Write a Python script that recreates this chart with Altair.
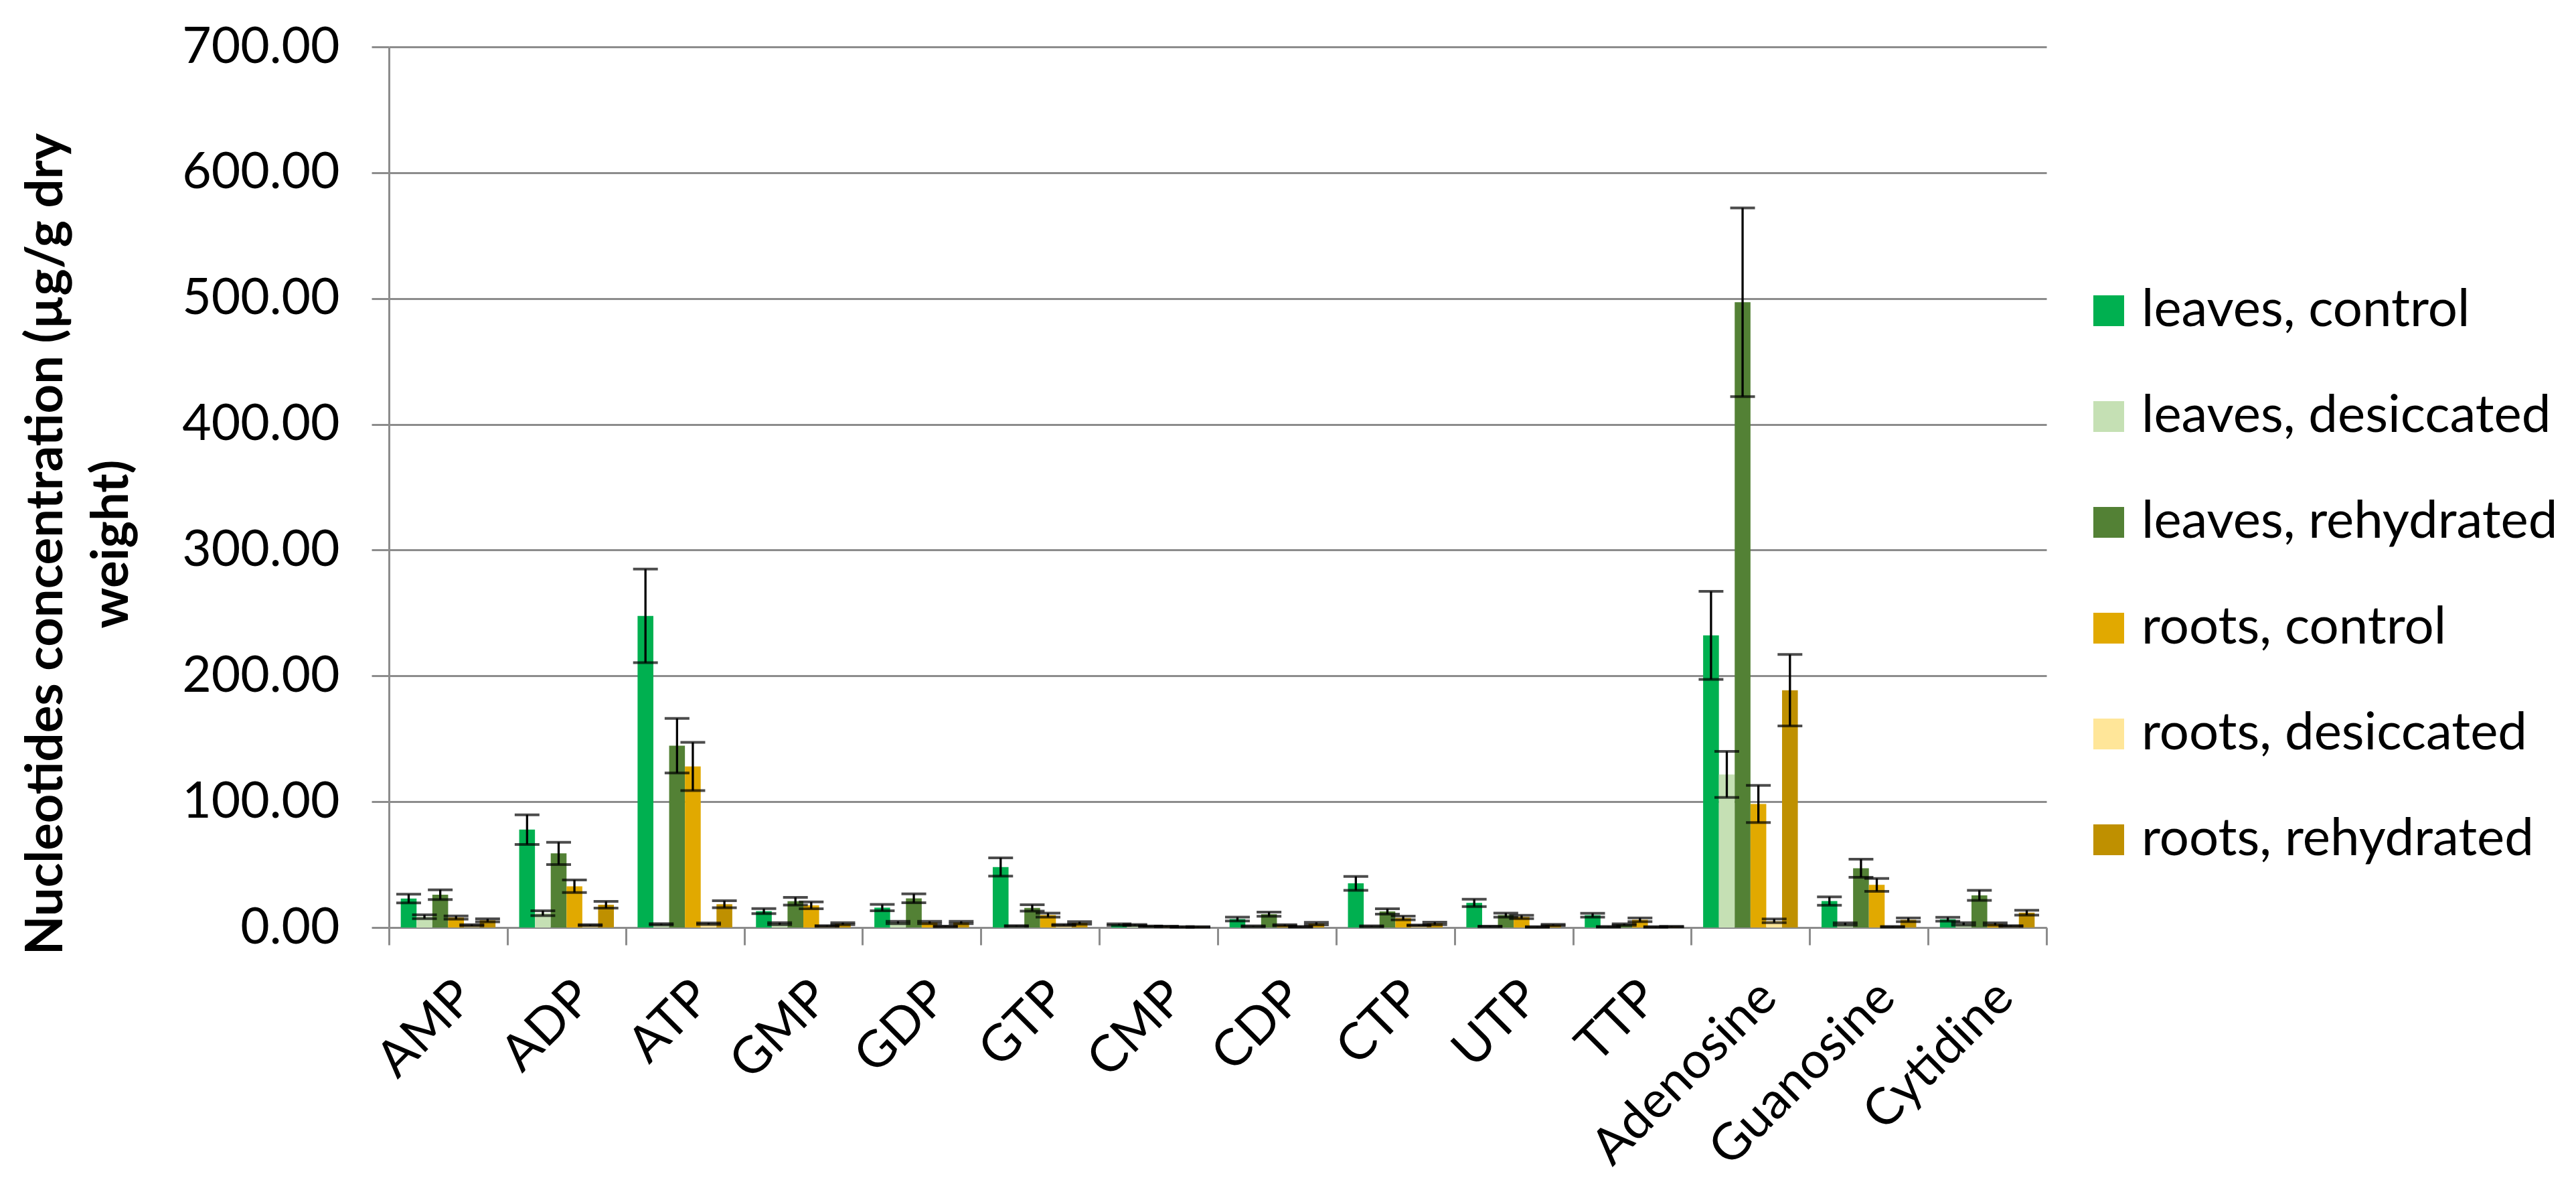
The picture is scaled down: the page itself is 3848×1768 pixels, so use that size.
import altair as alt
import pandas as pd

categories = ["AMP", "ADP", "ATP", "GMP", "GDP", "GTP", "CMP", "CDP", "CTP",
              "UTP", "TTP", "Adenosine", "Guanosine", "Cytidine"]
series = ["leaves, control", "leaves, desiccated", "leaves, rehydrated",
          "roots, control", "roots, desiccated", "roots, rehydrated"]
colors = ["#00B050", "#C5E0B4", "#538135", "#E1A900", "#FFE699", "#BF9000"]

leaves_control = [23.0, 77.8, 247.7, 13.0, 15.8, 48.1, 2.3, 6.7, 35.1, 19.6, 9.8, 232.2, 21.0, 6.6]
leaves_control_err = [3.5, 11.8, 37.2, 2.0, 2.5, 7.3, 0.6, 1.5, 5.5, 2.9, 1.5, 35.0, 3.3, 1.5]
leaves_desiccated = [8.6, 11.4, 2.5, 3.0, 4.0, 1.2, 2.0, 1.0, 1.0, 0.8, 0.6, 121.7, 2.8, 2.9]
leaves_desiccated_err = [1.5, 1.9, 0.5, 0.8, 0.9, 0.3, 0.4, 0.3, 0.3, 0.2, 0.2, 18.3, 0.9, 1.0]
leaves_rehydrated = [26.1, 58.9, 144.5, 20.9, 23.2, 15.6, 1.0, 10.6, 12.8, 9.9, 2.3, 497.0, 47.1, 25.6]
leaves_rehydrated_err = [3.9, 8.9, 21.7, 3.1, 3.5, 2.5, 0.2, 1.7, 2.1, 1.6, 0.6, 75.0, 7.2, 4.0]
roots_control = [7.9, 32.8, 128.0, 17.6, 4.0, 9.9, 0.8, 1.8, 7.6, 8.4, 6.1, 98.2, 33.9, 2.8]
roots_control_err = [1.3, 5.0, 19.2, 2.7, 0.9, 1.6, 0.2, 0.5, 1.5, 1.3, 1.5, 14.8, 5.1, 0.9]
roots_desiccated = [1.8, 1.8, 3.0, 1.2, 0.9, 2.0, 0.5, 0.6, 1.7, 0.5, 0.4, 5.3, 0.6, 1.2]
roots_desiccated_err = [0.5, 0.4, 0.6, 0.3, 0.2, 0.4, 0.2, 0.2, 0.3, 0.2, 0.2, 1.5, 0.2, 0.3]
roots_rehydrated = [5.7, 18.1, 18.5, 3.0, 4.0, 3.6, 0.5, 3.1, 3.3, 2.0, 0.7, 188.6, 6.1, 11.8]
roots_rehydrated_err = [1.2, 2.7, 2.8, 0.8, 0.9, 1.0, 0.2, 1.0, 1.0, 0.5, 0.2, 28.4, 1.5, 1.9]

y_ticks = [0, 100, 200, 300, 400, 500, 600, 700]
y_title = ["Nucleotides concentration (µg/g dry", "weight)"]

values = [leaves_control, leaves_desiccated, leaves_rehydrated,
          roots_control, roots_desiccated, roots_rehydrated]
errors = [leaves_control_err, leaves_desiccated_err, leaves_rehydrated_err,
          roots_control_err, roots_desiccated_err, roots_rehydrated_err]

rows = []
for s, vals, errs in zip(series, values, errors):
    for c, v, e in zip(categories, vals, errs):
        rows.append({"cat": c, "series": s, "value": v,
                     "lo": max(v - e, 0.0), "hi": v + e})
df = pd.DataFrame(rows)

FONT = "Lato"
GRAY = "#8C8C8C"

x_axis = alt.Axis(title=None, labelAngle=-45, labelAlign="right",
                  labelBaseline="top", labelFont=FONT, labelFontSize=76,
                  labelColor="black", labelPadding=40, tickBand="extent",
                  tickSize=26, tickColor=GRAY, tickWidth=3,
                  domainColor=GRAY, domainWidth=3, grid=False,
                  labelOverlap=False, labelLimit=2000)
y_axis = alt.Axis(values=y_ticks, format=".2f", title=y_title,
                  titleFont=FONT, titleFontSize=76, titleFontWeight="bold",
                  titleColor="black", titleAngle=270, titleAlign="center",
                  titleBaseline="middle", titleX=-512, titleY=742,
                  titleLineHeight=98, titleLimit=3000,
                  labelFont=FONT, labelFontSize=75, labelColor="black",
                  labelPadding=48, labelLimit=2000,
                  tickSize=26, tickColor=GRAY, tickWidth=3,
                  domainColor=GRAY, domainWidth=3,
                  grid=True, gridColor=GRAY, gridWidth=3)
x_scale = alt.Scale(paddingInner=0, paddingOuter=0)
y_scale = alt.Scale(domain=[0, 700], nice=False, zero=True)

x_enc = alt.X("cat:N", sort=categories, scale=x_scale, axis=x_axis)
xoff = alt.XOffset("series:N", sort=series,
                   scale=alt.Scale(paddingInner=0, paddingOuter=0.75))

base = alt.Chart(df)

bars = base.mark_bar(strokeWidth=0).encode(
    x=x_enc,
    xOffset=xoff,
    y=alt.Y("value:Q", scale=y_scale, axis=y_axis, title=y_title),
    color=alt.Color("series:N", sort=series,
                    scale=alt.Scale(domain=series, range=colors),
                    legend=alt.Legend(orient="none", legendX=2530, legendY=355,
                                      title=None, symbolType="square",
                                      symbolSize=2116, symbolStrokeWidth=0,
                                      symbolOpacity=1,
                                      labelFont=FONT, labelFontSize=78,
                                      labelColor="black", labelOffset=10,
                                      rowPadding=80, padding=0,
                                      labelLimit=2000)),
)

rules = base.mark_rule(color="black", strokeWidth=3.3).encode(
    x=x_enc, xOffset=xoff,
    y=alt.Y("lo:Q", scale=y_scale, axis=y_axis, title=y_title), y2="hi:Q",
)
cap_hi = base.mark_tick(color="black", size=37, thickness=4).encode(
    x=x_enc, xOffset=xoff,
    y=alt.Y("hi:Q", scale=y_scale, axis=y_axis, title=y_title),
)
cap_lo = base.mark_tick(color="black", size=37, thickness=4).encode(
    x=x_enc, xOffset=xoff,
    y=alt.Y("lo:Q", scale=y_scale, axis=y_axis, title=y_title),
)

chart = alt.layer(bars, rules, cap_hi, cap_lo).properties(
    width=2476, height=1315,
    autosize=alt.AutoSizeParams(type="none"),
    padding={"left": 573, "top": 62, "right": 783, "bottom": 375},
    background="white",
).configure_view(stroke=None)

chart.save("out.html", embed_options={"renderer": "svg", "actions": False})
